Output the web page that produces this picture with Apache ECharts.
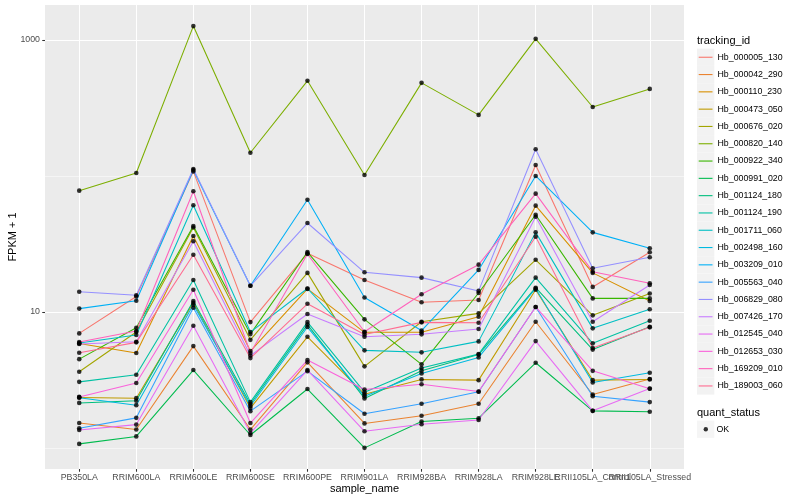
<!DOCTYPE html>
<html>
<head>
<meta charset="utf-8">
<script src="https://cdn.jsdelivr.net/npm/echarts@6/dist/echarts.min.js"></script>
<style>
html,body{margin:0;padding:0;background:#ffffff;}
#chart{width:800px;height:500px;}
</style>
</head>
<body>
<div id="chart"></div>
<script>
// ---------------- data (FPKM + 1) ----------------
const categories = ["PB350LA","RRIM600LA","RRIM600LE","RRIM600SE","RRIM600PE","RRIM901LA","RRIM928BA","RRIM928LA","RRIM928LE","RRII105LA_Control","RRII105LA_Stressed"];

const trackingIds = ["Hb_000005_130","Hb_000042_290","Hb_000110_230","Hb_000473_050","Hb_000676_020","Hb_000820_140","Hb_000922_340","Hb_000991_020","Hb_001124_180","Hb_001124_190","Hb_001711_060","Hb_002498_160","Hb_003209_010","Hb_005563_040","Hb_006829_080","Hb_007426_170","Hb_012545_040","Hb_012653_030","Hb_169209_010","Hb_189003_060"];

const Hb_000005_130 = [6.97, 13.0, 108, 8.44, 27.0, 17.2, 11.8, 12.25, 120.5, 15.3, 27.5];
const Hb_000042_290 = [1.53, 1.37, 5.62, 1.37, 4.27, 1.52, 1.73, 2.12, 8.49, 2.48, 3.22];
const Hb_000110_230 = [5.87, 5.00, 36.2, 5.17, 14.8, 7.10, 7.10, 9.24, 60.5, 19.4, 12.05];
const Hb_000473_050 = [2.36, 2.33, 11.7, 1.97, 6.58, 2.49, 3.20, 3.16, 14.6, 3.16, 3.20];
const Hb_000676_020 = [3.64, 7.13, 41.8, 6.25, 19.4, 3.99, 8.49, 9.78, 24.2, 9.46, 13.7];
const Hb_000820_140 = [78.0, 105, 1262, 148, 500, 101.7, 483, 281, 1017, 321, 436];
const Hb_000922_340 = [4.51, 7.67, 42.9, 6.89, 27.6, 8.84, 4.13, 13.8, 51.9, 12.6, 12.6];
const Hb_000991_020 = [1.075, 1.22, 3.75, 1.25, 2.72, 1.005, 1.57, 1.66, 4.24, 1.88, 1.85];
const Hb_001124_180 = [2.15, 2.23, 12.05, 2.11, 8.09, 2.32, 3.71, 4.87, 15.1, 5.30, 7.80];
const Hb_001124_190 = [3.07, 3.46, 17.2, 2.18, 8.44, 2.58, 3.88, 4.91, 17.9, 5.89, 8.63];
const Hb_001711_060 = [5.92, 6.78, 60.9, 7.13, 14.9, 5.23, 5.06, 6.09, 38.5, 7.59, 10.5];
const Hb_002498_160 = [2.35, 2.07, 11.3, 2.04, 7.76, 2.41, 3.54, 4.64, 14.9, 3.04, 3.58];
const Hb_003209_010 = [10.6, 12.1, 110.7, 15.6, 66.9, 12.8, 7.31, 20.4, 100, 38.5, 29.4];
const Hb_005563_040 = [1.40, 1.67, 10.75, 1.87, 3.68, 1.79, 2.12, 2.60, 10.9, 2.41, 2.18];
const Hb_006829_080 = [14.1, 13.3, 112.5, 15.6, 45.1, 19.6, 17.9, 14.3, 157, 21.0, 25.3];
const Hb_007426_170 = [5.82, 6.05, 33.1, 4.79, 9.67, 6.58, 6.86, 7.50, 50.2, 8.49, 15.8];
const Hb_012545_040 = [1.36, 1.49, 7.93, 1.29, 3.75, 1.33, 1.50, 1.61, 6.12, 1.88, 2.74];
const Hb_012653_030 = [2.38, 3.01, 14.6, 1.53, 4.44, 2.70, 2.95, 2.61, 10.9, 3.70, 2.73];
const Hb_169209_010 = [6.02, 7.25, 77.2, 5.00, 26.7, 7.16, 13.5, 22.3, 74.1, 19.8, 16.3];
const Hb_189003_060 = [5.02, 5.99, 26.4, 4.59, 11.5, 6.84, 8.40, 8.34, 35.8, 5.44, 7.72];

const seriesValues = [Hb_000005_130, Hb_000042_290, Hb_000110_230, Hb_000473_050, Hb_000676_020,
  Hb_000820_140, Hb_000922_340, Hb_000991_020, Hb_001124_180, Hb_001124_190, Hb_001711_060,
  Hb_002498_160, Hb_003209_010, Hb_005563_040, Hb_006829_080, Hb_007426_170, Hb_012545_040,
  Hb_012653_030, Hb_169209_010, Hb_189003_060];

const quantStatus = ["OK"];
const yMajorTicks = [10, 1000];
const yMinorTicks = [1, 100];
const yRange = [0.703, 1803];

// ---------------- style ----------------
const palette = ["#F8766D","#EA8331","#D89000","#C09B00","#A3A500","#7CAE00","#39B600","#00BB4E","#00BF7D","#00C1A3","#00BFC4","#00BAE0","#00B0F6","#35A2FF","#9590FF","#C77CFF","#E76BF3","#FA62DB","#FF62BC","#FF6C91"];
const FONT = "'Liberation Sans', Arial, Helvetica, sans-serif";
const catIndex = categories.map((c, i) => i);
// labels split over two (identical) axes so that touching labels are never dropped
const labelIdxEven = catIndex.filter(i => i % 2 === 0);
const labelIdxOdd = catIndex.filter(i => i % 2 === 1);
const xRange = [-0.6, categories.length - 1 + 0.6];

const lineSeries = trackingIds.map((id, k) => ({
  name: id,
  type: 'line',
  xAxisIndex: 0,
  yAxisIndex: 0,
  data: categories.map((c, i) => [i, seriesValues[k][i]]),
  showSymbol: false,
  symbol: 'none',
  color: palette[k],
  lineStyle: { color: palette[k], width: 1.07 },
  itemStyle: { color: palette[k] },
  emphasis: { disabled: true },
  silent: true,
  z: 2
}));

const pointData = [];
seriesValues.forEach(vals => categories.forEach((c, i) => pointData.push([i, vals[i]])));

const pointSeries = {
  name: quantStatus[0],
  type: 'scatter',
  xAxisIndex: 0,
  yAxisIndex: 0,
  data: pointData,
  symbol: 'circle',
  symbolSize: 4.6,
  itemStyle: { color: '#000000' },
  color: '#000000',
  silent: true,
  z: 5
};

const legendText = { color: '#000000', fontSize: 8.8, fontFamily: FONT, lineHeight: 17.3 };
const xLabelStyle = { formatter: v => categories[Math.round(v)], fontSize: 8.8, color: '#4D4D4D',
                      margin: 4.5, fontFamily: FONT, hideOverlap: false, showMinLabel: true, showMaxLabel: true };

const option = {
  animation: false,
  backgroundColor: '#ffffff',
  textStyle: { fontFamily: FONT },
  title: [
    { text: 'tracking_id', left: 697, top: 35, padding: 0,
      textStyle: { fontSize: 11, fontWeight: 'normal', color: '#000000', fontFamily: FONT } },
    { text: 'quant_status', left: 697, top: 407, padding: 0,
      textStyle: { fontSize: 11, fontWeight: 'normal', color: '#000000', fontFamily: FONT } }
  ],
  grid: { left: 45, right: 116, top: 5, bottom: 31, show: true, backgroundColor: '#EBEBEB', borderWidth: 0,
          containLabel: false, outerBoundsMode: 'none' },
  xAxis: [
    {
      type: 'value', min: xRange[0], max: xRange[1], position: 'bottom', offset: 0,
      name: 'sample_name', nameLocation: 'middle', nameGap: 14, nameMoveOverlap: false,
      nameTextStyle: { fontSize: 11, color: '#000000', fontFamily: FONT },
      axisLine: { show: false, onZero: false },
      axisTick: { show: true, inside: false, length: 2.75, customValues: catIndex, lineStyle: { color: '#333333', width: 1.07 } },
      axisLabel: Object.assign({ customValues: labelIdxEven }, xLabelStyle),
      splitLine: { show: true, lineStyle: { color: '#ffffff', width: 1.07 } },
      minorSplitLine: { show: false }
    },
    {
      type: 'value', min: xRange[0], max: xRange[1], position: 'bottom', offset: 0,
      axisLine: { show: false, onZero: false },
      axisTick: { show: false, customValues: labelIdxOdd },
      axisLabel: Object.assign({ customValues: labelIdxOdd }, xLabelStyle),
      splitLine: { show: false }
    }
  ],
  yAxis: [
    {
      type: 'log', min: yRange[0], max: yRange[1], position: 'left', offset: 0,
      name: 'FPKM + 1', nameLocation: 'middle', nameGap: 27, nameMoveOverlap: false,
      nameTextStyle: { fontSize: 11, color: '#000000', fontFamily: FONT },
      axisLine: { show: false, onZero: false },
      axisTick: { show: true, inside: false, length: 2.75, customValues: yMajorTicks, lineStyle: { color: '#333333', width: 1.07 } },
      axisLabel: { customValues: yMajorTicks, formatter: v => String(Math.round(v)), fontSize: 8.8, color: '#4D4D4D',
                   margin: 5, fontFamily: FONT, hideOverlap: false },
      splitLine: { show: true, lineStyle: { color: '#ffffff', width: 1.07 } }
    },
    {
      type: 'log', min: yRange[0], max: yRange[1], position: 'right', offset: 0,
      axisLine: { show: false, onZero: false },
      axisTick: { show: false, customValues: yMinorTicks },
      axisLabel: { show: false, customValues: yMinorTicks },
      splitLine: { show: true, lineStyle: { color: '#ffffff', width: 0.53 } }
    }
  ],
  legend: [
    { data: trackingIds, orient: 'vertical', left: 697, top: 48.6, padding: 0, itemWidth: 17.3, itemHeight: 17.3, itemGap: 0,
      icon: 'rect', selectedMode: false, itemStyle: { color: '#F2F2F2', borderColor: '#F2F2F2', borderWidth: 0 },
      textStyle: { color: 'rgba(0,0,0,0)', fontSize: 8.8 }, z: 2 },
    { data: trackingIds, orient: 'vertical', left: 698.7, top: 48.6, padding: 0, itemWidth: 13.8, itemHeight: 1.1, itemGap: 0,
      icon: 'rect', selectedMode: false, itemStyle: { borderWidth: 0 }, textStyle: legendText, z: 3 },
    { data: quantStatus, orient: 'vertical', left: 697, top: 420.6, padding: 0, itemWidth: 17.3, itemHeight: 17.3, itemGap: 0,
      icon: 'rect', selectedMode: false, itemStyle: { color: '#F2F2F2', borderColor: '#F2F2F2', borderWidth: 0 },
      textStyle: { color: 'rgba(0,0,0,0)', fontSize: 8.8 }, z: 2 },
    { data: quantStatus, orient: 'vertical', left: 703.6, top: 420.6, padding: 0, itemWidth: 4.4, itemHeight: 4.4, itemGap: 0,
      icon: 'circle', selectedMode: false, itemStyle: { borderWidth: 0 },
      textStyle: Object.assign({}, legendText, { padding: [0, 0, 0, 3.5] }), z: 3 }
  ],
  series: lineSeries.concat([pointSeries])
};

const chart = echarts.init(document.getElementById('chart'), null, { renderer: 'canvas' });
chart.setOption(option);
</script>
</body>
</html>
